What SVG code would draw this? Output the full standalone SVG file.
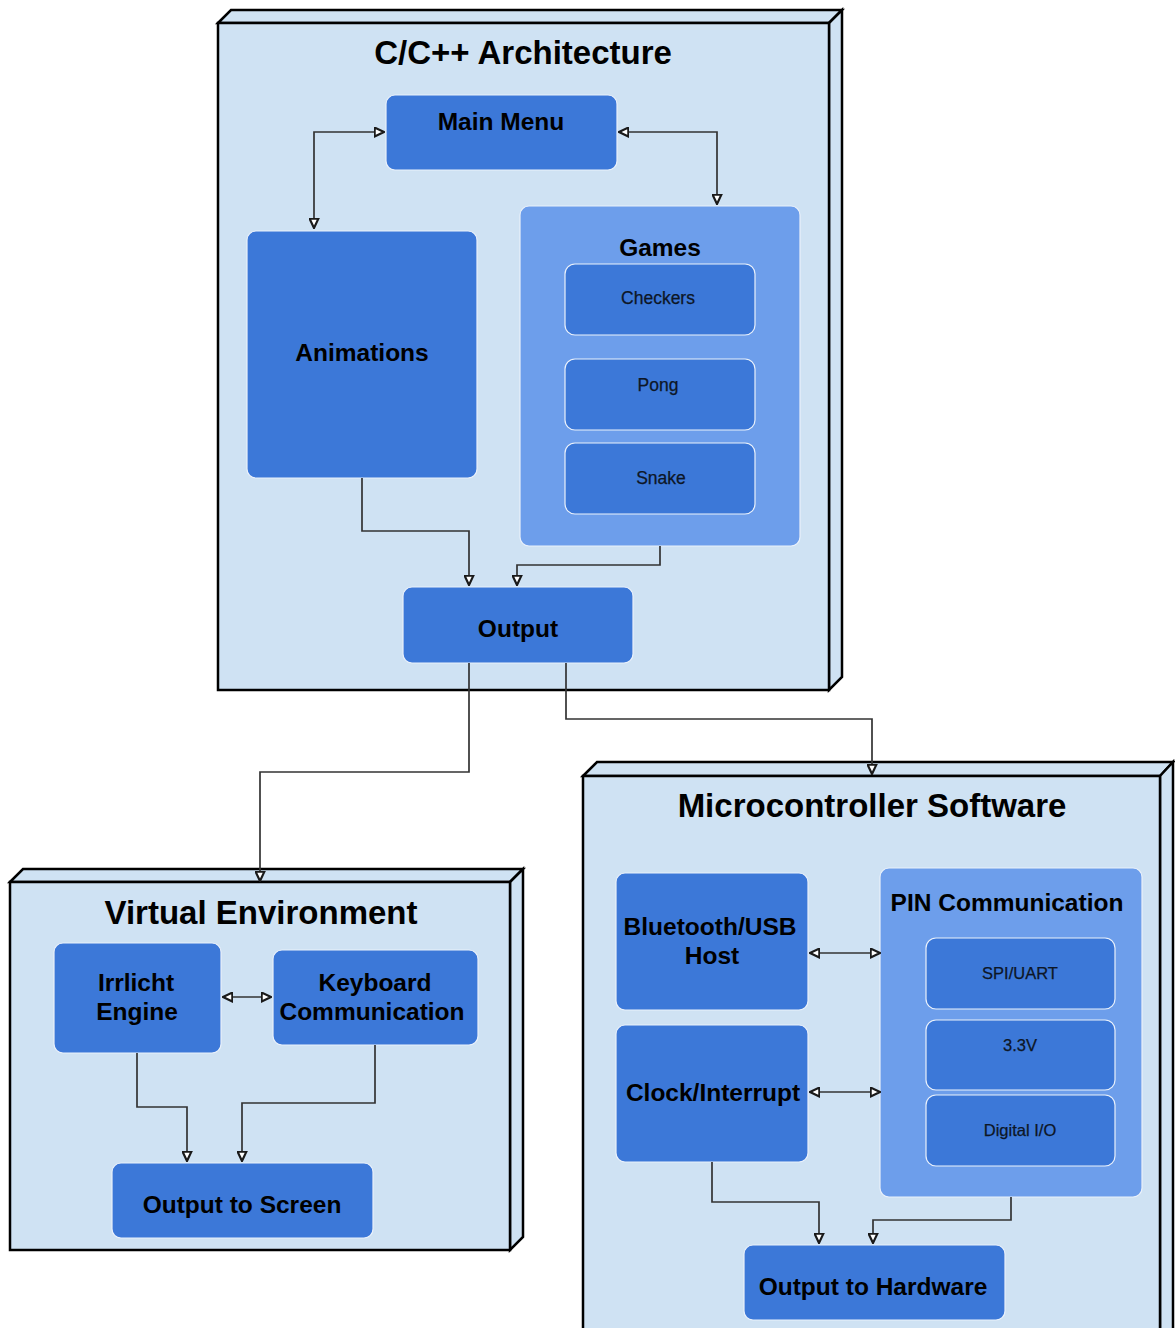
<svg xmlns="http://www.w3.org/2000/svg" width="1175" height="1328" viewBox="0 0 1175 1328">
  <style>
    .pkg { fill: #cfe2f3; stroke: #000; stroke-width: 2.5; stroke-linejoin: miter; }
    .node { fill: #3c78d8; stroke: #eaf1fb; stroke-width: 1.2; }
    .group { fill: #6d9eeb; stroke: #eaf1fb; stroke-width: 1.2; }
    .title { font-family: "Liberation Sans", Arial, sans-serif; font-weight: bold; font-size: 33px; fill: #000; text-anchor: middle; }
    .label { font-family: "Liberation Sans", Arial, sans-serif; font-weight: bold; font-size: 24.5px; fill: #000; text-anchor: middle; }
    .small { font-family: "Liberation Sans", Arial, sans-serif; font-size: 16.5px; fill: #0d1626; text-anchor: middle; stroke: #0d1626; stroke-width: 0.25; }
    .game { font-size: 17.5px; }
    .edge { fill: none; stroke: #333; stroke-width: 1.7; marker-end: url(#tri); }
    .both { marker-start: url(#tri); }
  </style>
  <defs>
    <marker id="tri" viewBox="0 0 10 10" refX="9.5" refY="5" markerWidth="11" markerHeight="11" markerUnits="userSpaceOnUse" orient="auto-start-reverse">
      <path d="M1,1 L9.5,5 L1,9 Z" fill="#ffffff" stroke="#1a1a1a" stroke-width="2" stroke-linejoin="miter"/>
    </marker>
  </defs>

  <rect width="1175" height="1328" fill="#ffffff"/>

  <!-- C/C++ Architecture package -->
  <g id="pkg-architecture">
    <polygon class="pkg" points="218,23 231,10 842,10 829,23"/>
    <polygon class="pkg" points="829,23 842,10 842,677 829,690"/>
    <rect class="pkg" x="218" y="23" width="611" height="667"/>
    <text class="title" x="523" y="64">C/C++ Architecture</text>
  </g>

  <!-- Virtual Environment package -->
  <g id="pkg-virtual">
    <polygon class="pkg" points="10,882 23,869 523,869 510,882"/>
    <polygon class="pkg" points="510,882 523,869 523,1237 510,1250"/>
    <rect class="pkg" x="10" y="882" width="500" height="368"/>
    <text class="title" x="261" y="924">Virtual Environment</text>
  </g>

  <!-- Microcontroller Software package -->
  <g id="pkg-micro">
    <polygon class="pkg" points="583,776 597,762 1173,762 1160,776"/>
    <polygon class="pkg" points="1160,776 1173,762 1173,1345 1160,1345"/>
    <rect class="pkg" x="583" y="776" width="577" height="570"/>
    <text class="title" x="872" y="817">Microcontroller Software</text>
  </g>

  <!-- Architecture nodes -->
  <g id="main-menu">
    <rect class="node" x="386" y="95" width="231" height="75" rx="9"/>
    <text class="label" x="501" y="130">Main Menu</text>
  </g>
  <g id="animations">
    <rect class="node" x="247" y="231" width="230" height="247" rx="9"/>
    <text class="label" x="362" y="361">Animations</text>
  </g>
  <g id="games">
    <rect class="group" x="520" y="206" width="280" height="340" rx="9"/>
    <text class="label" x="660" y="256">Games</text>
  </g>
  <g id="checkers">
    <rect class="node" x="565" y="264" width="190" height="71" rx="10"/>
    <text class="small game" x="658" y="304">Checkers</text>
  </g>
  <g id="pong">
    <rect class="node" x="565" y="359" width="190" height="71" rx="10"/>
    <text class="small game" x="658" y="391">Pong</text>
  </g>
  <g id="snake">
    <rect class="node" x="565" y="443" width="190" height="71" rx="10"/>
    <text class="small game" x="661" y="484">Snake</text>
  </g>
  <g id="output">
    <rect class="node" x="403" y="587" width="230" height="76" rx="9"/>
    <text class="label" x="518" y="637">Output</text>
  </g>

  <!-- Virtual Environment nodes -->
  <g id="irrlicht">
    <rect class="node" x="54" y="943" width="167" height="110" rx="9"/>
    <text class="label" x="136" y="991">Irrlicht</text>
    <text class="label" x="137" y="1020">Engine</text>
  </g>
  <g id="keyboard">
    <rect class="node" x="273" y="950" width="205" height="95" rx="9"/>
    <text class="label" x="375" y="991">Keyboard</text>
    <text class="label" x="372" y="1020">Communication</text>
  </g>
  <g id="output-screen">
    <rect class="node" x="112" y="1163" width="261" height="75" rx="9"/>
    <text class="label" x="242" y="1213">Output to Screen</text>
  </g>

  <!-- Microcontroller nodes -->
  <g id="bluetooth">
    <rect class="node" x="616" y="873" width="192" height="137" rx="9"/>
    <text class="label" x="710" y="935">Bluetooth/USB</text>
    <text class="label" x="712" y="964">Host</text>
  </g>
  <g id="clock">
    <rect class="node" x="616" y="1025" width="192" height="137" rx="9"/>
    <text class="label" x="713" y="1101">Clock/Interrupt</text>
  </g>
  <g id="pin">
    <rect class="group" x="880" y="868" width="262" height="329" rx="9"/>
    <text class="label" x="1007" y="911">PIN Communication</text>
  </g>
  <g id="spi-uart">
    <rect class="node" x="926" y="938" width="189" height="71" rx="10"/>
    <text class="small" x="1020" y="979">SPI/UART</text>
  </g>
  <g id="v33">
    <rect class="node" x="926" y="1020" width="189" height="70" rx="10"/>
    <text class="small" x="1020" y="1051">3.3V</text>
  </g>
  <g id="digital-io">
    <rect class="node" x="926" y="1095" width="189" height="71" rx="10"/>
    <text class="small" x="1020" y="1136">Digital I/O</text>
  </g>
  <g id="output-hardware">
    <rect class="node" x="744" y="1245" width="261" height="75" rx="9"/>
    <text class="label" x="873" y="1295">Output to Hardware</text>
  </g>

  <!-- Connectors -->
  <g id="connectors">
    <path class="edge both" d="M384,132 H314 V228"/>
    <path class="edge both" d="M619,132 H717 V204"/>
    <path class="edge" d="M362,478 V531 H469 V585"/>
    <path class="edge" d="M660,546 V565 H517 V585"/>
    <path class="edge" d="M469,663 V772 H260 V881"/>
    <path class="edge" d="M566,663 V719 H872 V774"/>
    <path class="edge both" d="M223,997 H271"/>
    <path class="edge" d="M137,1053 V1107 H187 V1161"/>
    <path class="edge" d="M375,1045 V1103 H242 V1161"/>
    <path class="edge both" d="M810,953 H880"/>
    <path class="edge both" d="M810,1092 H880"/>
    <path class="edge" d="M712,1162 V1202 H819 V1243"/>
    <path class="edge" d="M1011,1197 V1220 H873 V1243"/>
  </g>
</svg>
